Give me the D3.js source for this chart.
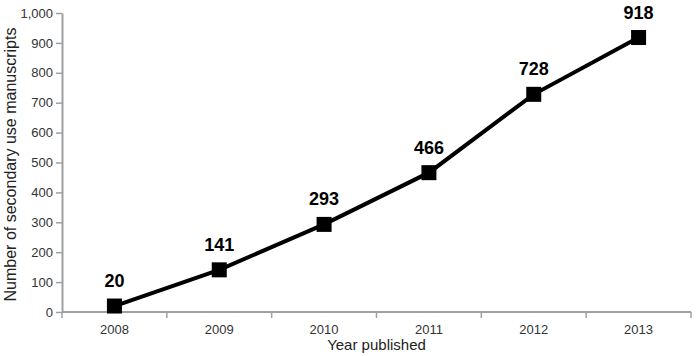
<!DOCTYPE html>
<html>
<head>
<meta charset="utf-8">
<script src="https://cdn.jsdelivr.net/npm/d3@7"></script>
<style>
  body { margin: 0; background: #fff; }
  text { font-family: "Liberation Sans", Arial, sans-serif; }
</style>
</head>
<body>
<div class="chart"></div>
<script>
// data
var years = ["2008", "2009", "2010", "2011", "2012", "2013"];
var counts = [20, 141, 293, 466, 728, 918];
var yTicks = [0, 100, 200, 300, 400, 500, 600, 700, 800, 900, 1000];

var width = 697;
var height = 356;
var margin = { top: 13, right: 6, bottom: 44, left: 62 };

var svg = d3.select(".chart")
            .append("svg")
            .attr("width", width)
            .attr("height", height);

var xScale = d3.scaleBand()
               .domain(years)
               .range([margin.left, width - margin.right]);
var yScale = d3.scaleLinear()
               .domain([0, 1000])
               .range([height - margin.bottom, margin.top]);

var axisColor = "#a0a0a0";

// y axis
var yAxis = d3.axisLeft(yScale)
              .tickValues(yTicks)
              .tickFormat(d3.format(","))
              .tickSize(6)
              .tickSizeOuter(0);
var gy = svg.append("g")
            .attr("transform", `translate(${margin.left}, 0)`)
            .call(yAxis);
gy.select(".domain").attr("stroke", axisColor).attr("stroke-width", 2);
gy.selectAll(".tick line").attr("stroke", axisColor).attr("stroke-width", 1.5);
gy.selectAll(".tick text").attr("fill", "#333").style("font-size", "13px").attr("x", -9);

// x axis, ticks sit on the band edges
var xAxisLine = svg.append("g")
                   .attr("transform", `translate(0, ${yScale(0)})`);
xAxisLine.append("line")
         .attr("x1", margin.left)
         .attr("x2", width - margin.right)
         .attr("stroke", axisColor)
         .attr("stroke-width", 2);
xAxisLine.selectAll(".edge")
         .data(years.concat(["end"]))
         .enter()
         .append("line")
         .attr("class", "edge")
         .attr("x1", (d, i) => i < years.length ? xScale(d) : xScale(years[years.length - 1]) + xScale.bandwidth())
         .attr("x2", (d, i) => i < years.length ? xScale(d) : xScale(years[years.length - 1]) + xScale.bandwidth())
         .attr("y1", 0)
         .attr("y2", 6)
         .attr("stroke", axisColor)
         .attr("stroke-width", 1.5);
xAxisLine.selectAll(".lab")
         .data(years)
         .enter()
         .append("text")
         .attr("class", "lab")
         .attr("x", d => xScale(d) + xScale.bandwidth() / 2)
         .attr("y", 22)
         .attr("text-anchor", "middle")
         .attr("fill", "#333")
         .style("font-size", "13px")
         .text(d => d);

// axis titles
svg.append("text")
   .attr("x", (margin.left + width - margin.right) / 2)
   .attr("y", 350)
   .attr("text-anchor", "middle")
   .attr("fill", "#222")
   .style("font-size", "15px")
   .text("Year published");
svg.append("text")
   .attr("transform", `translate(16, ${(margin.top + yScale(0)) / 2 + 2}) rotate(-90)`)
   .attr("text-anchor", "middle")
   .attr("fill", "#222")
   .style("font-size", "16px")
   .text("Number of secondary use manuscripts");

// line
var cx = d => xScale(d) + xScale.bandwidth() / 2;
var line = d3.line()
             .x((d, i) => cx(years[i]))
             .y(d => yScale(d));
svg.append("path")
   .datum(counts)
   .attr("d", line)
   .attr("fill", "none")
   .attr("stroke", "#000")
   .attr("stroke-width", 4);

// markers
var size = 15;
svg.selectAll(".marker")
   .data(counts)
   .enter()
   .append("rect")
   .attr("class", "marker")
   .attr("x", (d, i) => cx(years[i]) - size / 2)
   .attr("y", d => yScale(d) - size / 2)
   .attr("width", size)
   .attr("height", size)
   .attr("fill", "#000");

// value labels
svg.selectAll(".val")
   .data(counts)
   .enter()
   .append("text")
   .attr("class", "val")
   .attr("x", (d, i) => cx(years[i]))
   .attr("y", d => yScale(d) - 19)
   .attr("text-anchor", "middle")
   .attr("fill", "#000")
   .style("font-size", "18px")
   .style("font-weight", "bold")
   .text(d => d);
</script>
</body>
</html>
